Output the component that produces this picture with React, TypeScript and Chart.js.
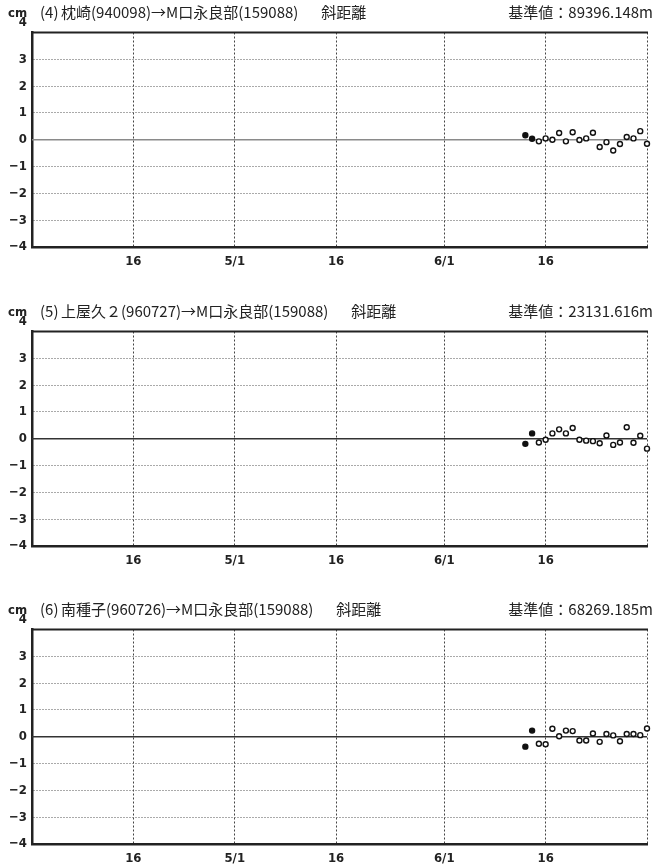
import React, { useEffect, useRef } from "react";
import { Chart, registerables } from "chart.js";

Chart.register(...registerables);

// ---------- data ----------
const dates = [
  "6/13", "6/14", "6/15", "6/16", "6/17", "6/18", "6/19", "6/20", "6/21", "6/22",
  "6/23", "6/24", "6/25", "6/26", "6/27", "6/28", "6/29", "6/30", "7/1",
];
const filledCount = 2; // first points drawn as solid dots

const series4 = [0.17, 0.04, -0.06, 0.05, 0.0, 0.25, -0.06, 0.28, -0.01, 0.05, 0.26, -0.27, -0.09, -0.4, -0.16, 0.1, 0.05, 0.32, -0.15];
const series5 = [-0.19, 0.2, -0.14, -0.04, 0.2, 0.35, 0.2, 0.4, -0.04, -0.07, -0.09, -0.17, 0.12, -0.23, -0.14, 0.43, -0.15, 0.11, -0.37];
const series6 = [-0.37, 0.23, -0.26, -0.28, 0.3, 0.02, 0.23, 0.21, -0.14, -0.14, 0.12, -0.19, 0.1, 0.05, -0.17, 0.1, 0.1, 0.06, 0.31];

const panelNumbers = ["(4)", "(5)", "(6)"];
const panelNames = [
  "枕崎(940098)→M口永良部(159088)",
  "上屋久２(960727)→M口永良部(159088)",
  "南種子(960726)→M口永良部(159088)",
];
const panelKind = "斜距離";
const refValues = ["基準値：89396.148m", "基準値：23131.616m", "基準値：68269.185m"];
const unitLabel = "cm";

const xStart = "4/1";
const xEnd = "7/1";
const xTickDates = ["4/16", "5/1", "5/16", "6/1", "6/16", "7/1"];
const xTickLabels = ["16", "5/1", "16", "6/1", "16", ""];
const yMin = -4;
const yMax = 4;

const allSeries = [series4, series5, series6];
const zeroColors = ["#8a8a8a", "#333333", "#333333"];

// ---------- helpers ----------
const monthOffset: Record<number, number> = { 4: 0, 5: 30, 6: 61, 7: 91 };
function dayIndex(md: string): number {
  const [m, d] = md.split("/").map(Number);
  return monthOffset[m] + d - 1;
}
function yLabel(v: number): string {
  return v < 0 ? "−" + Math.abs(v) : String(v);
}

const LATIN = '"Liberation Sans Narrow", "DejaVu Sans Condensed", Roboto, "Noto Sans CJK JP", sans-serif';
const TITLE_FONT = '15px "Liberation Sans Narrow", "Noto Sans CJK JP", sans-serif';

const PANEL_W = 654;
const PANEL_H = 299;
const panelTops = [0, 299, 597];

function Panel({ index }: { index: number }) {
  const ref = useRef<HTMLCanvasElement | null>(null);
  useEffect(() => {
    const canvas = ref.current;
    if (!canvas) return;
    const values = allSeries[index];
    const pts = dates.map((d, i) => ({ x: dayIndex(d), y: values[i] }));
    const tickValues = xTickDates.map(dayIndex);

    const decor = {
      id: "decor" + index,
      beforeDatasetsDraw(chart: any) {
        const { ctx, chartArea, scales } = chart;
        const y0 = scales.y.getPixelForValue(0);
        ctx.save();
        ctx.strokeStyle = zeroColors[index];
        ctx.lineWidth = 1.6;
        ctx.beginPath();
        ctx.moveTo(chartArea.left, y0);
        ctx.lineTo(chartArea.right, y0);
        ctx.stroke();
        // top frame line
        ctx.strokeStyle = "#222";
        ctx.lineWidth = 2;
        const yt = scales.y.getPixelForValue(yMax);
        ctx.beginPath();
        ctx.moveTo(chartArea.left - 1, yt);
        ctx.lineTo(chartArea.right + 1, yt);
        ctx.stroke();
        ctx.restore();
      },
      afterDraw(chart: any) {
        const { ctx, chartArea, scales } = chart;
        ctx.save();
        ctx.fillStyle = "#222";
        ctx.textBaseline = "middle";
        const ty = chartArea.top - 20;
        ctx.font = "bold 13px " + LATIN;
        ctx.textAlign = "left";
        ctx.fillText(unitLabel, 8, ty + 1);
        // top y label sits above the frame
        ctx.textAlign = "right";
        ctx.fillText(yLabel(yMax), chartArea.left - 5, scales.y.getPixelForValue(yMax) - 10);
        ctx.font = TITLE_FONT;
        ctx.textAlign = "left";
        ctx.fillText(panelNumbers[index], 40, ty);
        const nameX = 61;
        ctx.fillText(panelNames[index], nameX, ty);
        const nameW = ctx.measureText(panelNames[index]).width;
        ctx.fillText(panelKind, nameX + nameW + 23, ty);
        ctx.textAlign = "right";
        ctx.fillText(refValues[index], 653, ty);
        ctx.restore();
      },
    };

    const chart = new Chart(canvas, {
      type: "scatter",
      data: {
        datasets: [
          {
            data: pts,
            pointRadius: 2.5,
            pointBorderWidth: 1.4,
            pointBorderColor: "#111",
            pointBackgroundColor: pts.map((_, i) => (i < filledCount ? "#111" : "#fff")),
            showLine: false,
            clip: false,
          },
        ],
      },
      options: {
        responsive: false,
        animation: false,
        devicePixelRatio: 1,
        layout: { padding: { top: 32.5, right: 1, left: 0, bottom: 0 } },
        plugins: { legend: { display: false }, tooltip: { enabled: false } },
        scales: {
          x: {
            type: "linear",
            min: dayIndex(xStart),
            max: dayIndex(xEnd),
            afterBuildTicks: (scale: any) => {
              scale.ticks = tickValues.map((v) => ({ value: v }));
            },
            afterFit: (scale: any) => {
              scale.height = 52;
            },
            ticks: {
              autoSkip: false,
              maxRotation: 0,
              padding: 7,
              color: "#222",
              font: { family: LATIN, size: 13, weight: "bold" },
              callback: (v: any) => {
                const i = tickValues.indexOf(Number(v));
                return i >= 0 ? xTickLabels[i] : "";
              },
            },
            grid: { color: "#444", lineWidth: 1, drawTicks: false },
            border: { display: true, color: "#222", width: 2.5, dash: [2, 2] },
          },
          y: {
            min: yMin,
            max: yMax,
            afterFit: (scale: any) => {
              scale.width = 32;
            },
            ticks: {
              stepSize: 1,
              padding: 5,
              color: "#222",
              font: { family: LATIN, size: 13, weight: "bold" },
              callback: (v: any) => (Number(v) === yMax ? "" : yLabel(Number(v))),
            },
            grid: { color: "#555", lineWidth: 1, drawTicks: false },
            border: { display: true, color: "#222", width: 2.5, dash: [1, 2] },
          },
        },
      },
      plugins: [decor],
    } as any);
    return () => chart.destroy();
  }, [index]);

  return (
    <canvas
      ref={ref}
      width={PANEL_W}
      height={PANEL_H}
      style={{ position: "absolute", left: 0, top: panelTops[index], width: PANEL_W, height: PANEL_H }}
    />
  );
}

export default function App() {
  return (
    <div style={{ position: "absolute", left: 0, top: 0, width: PANEL_W, height: 865, background: "#fff" }}>
      {[0, 1, 2].map((i) => (
        <Panel key={i} index={i} />
      ))}
    </div>
  );
}
